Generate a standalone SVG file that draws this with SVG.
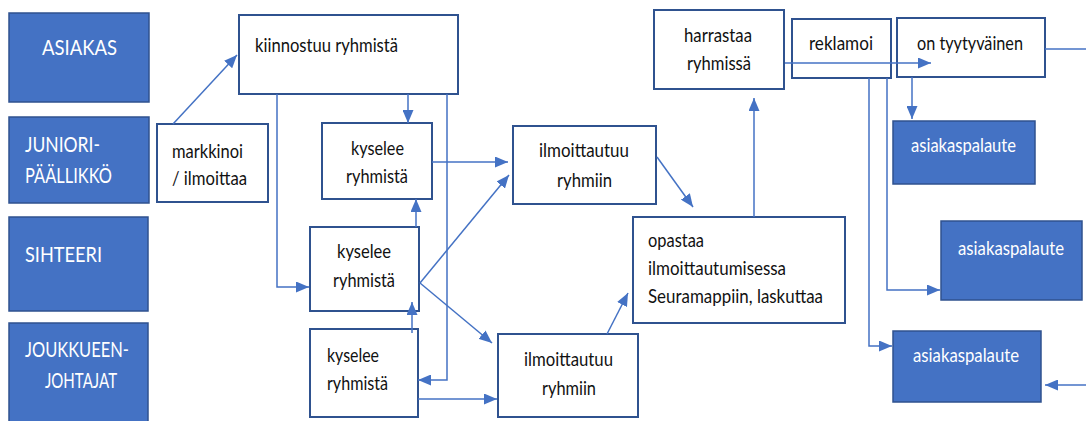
<svg xmlns="http://www.w3.org/2000/svg" width="1086" height="421" viewBox="0 0 1086 421">
  <style>
    .role { fill: #4472C4; stroke: #2F528F; stroke-width: 1.5; }
    .step { fill: #FFFFFF; stroke: #2F528F; stroke-width: 2; }
    .fb { fill: #4472C4; stroke: #2F528F; stroke-width: 1.5; }
    .rt { font-family: Lato, "Open Sans", sans-serif; font-size: 22px; fill: #FFFFFF; }
    .t { font-family: Lato, "Open Sans", sans-serif; font-size: 19px; fill: #111111; }
    .wt { font-family: Lato, "Open Sans", sans-serif; font-size: 19px; fill: #FFFFFF; }
    .conn { fill: none; stroke: #4472C4; stroke-width: 1.5; marker-end: url(#arrow); }
    .plain { fill: none; stroke: #4472C4; stroke-width: 1.5; }
  </style>
  <defs>
    <marker id="arrow" markerUnits="userSpaceOnUse" markerWidth="13" markerHeight="11" refX="13" refY="5.5" orient="auto">
      <path d="M0,0 L13,5.5 L0,11 z" fill="#4472C4"/>
    </marker>
  </defs>

  <rect width="1086" height="421" fill="#FFFFFF"/>

  <!-- role lanes -->
  <g id="role-asiakas">
    <rect class="role" x="9" y="13" width="140" height="89"/>
    <text class="rt" x="42" y="55" textLength="75" lengthAdjust="spacingAndGlyphs">ASIAKAS</text>
  </g>
  <g id="role-junioripaallikko">
    <rect class="role" x="9" y="117" width="140" height="86"/>
    <text class="rt" x="25" y="152" textLength="75" lengthAdjust="spacingAndGlyphs">JUNIORI-</text>
    <text class="rt" x="25" y="183" textLength="87" lengthAdjust="spacingAndGlyphs">PÄÄLLIKKÖ</text>
  </g>
  <g id="role-sihteeri">
    <rect class="role" x="9" y="217" width="139" height="94"/>
    <text class="rt" x="25" y="262" textLength="77" lengthAdjust="spacingAndGlyphs">SIHTEERI</text>
  </g>
  <g id="role-joukkueenjohtajat">
    <rect class="role" x="9" y="323" width="139" height="110"/>
    <text class="rt" x="25" y="357" textLength="104" lengthAdjust="spacingAndGlyphs">JOUKKUEEN-</text>
    <text class="rt" x="45" y="388" textLength="72" lengthAdjust="spacingAndGlyphs">JOHTAJAT</text>
  </g>

  <!-- process steps -->
  <g id="markkinoi">
    <rect class="step" x="157" y="124" width="111" height="78"/>
    <text class="t" x="172" y="158" textLength="71" lengthAdjust="spacingAndGlyphs">markkinoi</text>
    <text class="t" x="172" y="185" textLength="75" lengthAdjust="spacingAndGlyphs">/ ilmoittaa</text>
  </g>
  <g id="kiinnostuu">
    <rect class="step" x="239" y="15" width="219" height="79"/>
    <text class="t" x="255" y="52" textLength="143" lengthAdjust="spacingAndGlyphs">kiinnostuu ryhmistä</text>
  </g>
  <g id="kyselee-junioripaallikko">
    <rect class="step" x="322" y="123" width="110" height="76"/>
    <text class="t" x="351" y="155" textLength="53" lengthAdjust="spacingAndGlyphs">kyselee</text>
    <text class="t" x="346" y="183" textLength="62" lengthAdjust="spacingAndGlyphs">ryhmistä</text>
  </g>
  <g id="kyselee-sihteeri">
    <rect class="step" x="310" y="227" width="109" height="84"/>
    <text class="t" x="337" y="258" textLength="54" lengthAdjust="spacingAndGlyphs">kyselee</text>
    <text class="t" x="333" y="287" textLength="62" lengthAdjust="spacingAndGlyphs">ryhmistä</text>
  </g>
  <g id="kyselee-joukkueenjohtajat">
    <rect class="step" x="310" y="329" width="108" height="88"/>
    <text class="t" x="327" y="362" textLength="52" lengthAdjust="spacingAndGlyphs">kyselee</text>
    <text class="t" x="327" y="390" textLength="61" lengthAdjust="spacingAndGlyphs">ryhmistä</text>
  </g>
  <g id="ilmoittautuu-junioripaallikko">
    <rect class="step" x="513" y="126" width="143" height="78"/>
    <text class="t" x="539" y="157" textLength="90" lengthAdjust="spacingAndGlyphs">ilmoittautuu</text>
    <text class="t" x="557" y="187" textLength="55" lengthAdjust="spacingAndGlyphs">ryhmiin</text>
  </g>
  <g id="ilmoittautuu-joukkueenjohtajat">
    <rect class="step" x="498" y="334" width="140" height="83"/>
    <text class="t" x="524" y="366" textLength="89" lengthAdjust="spacingAndGlyphs">ilmoittautuu</text>
    <text class="t" x="542" y="395" textLength="54" lengthAdjust="spacingAndGlyphs">ryhmiin</text>
  </g>
  <g id="opastaa">
    <rect class="step" x="633" y="217" width="212" height="106"/>
    <text class="t" x="648" y="247" textLength="56" lengthAdjust="spacingAndGlyphs">opastaa</text>
    <text class="t" x="648" y="275" textLength="138" lengthAdjust="spacingAndGlyphs">ilmoittautumisessa</text>
    <text class="t" x="648" y="303" textLength="175" lengthAdjust="spacingAndGlyphs">Seuramappiin, laskuttaa</text>
  </g>
  <g id="harrastaa">
    <rect class="step" x="654" y="10" width="130" height="79"/>
    <text class="t" x="684" y="42" textLength="68" lengthAdjust="spacingAndGlyphs">harrastaa</text>
    <text class="t" x="687" y="70" textLength="64" lengthAdjust="spacingAndGlyphs">ryhmissä</text>
  </g>
  <g id="reklamoi">
    <rect class="step" x="792" y="19" width="99" height="59"/>
    <text class="t" x="809" y="50" textLength="64" lengthAdjust="spacingAndGlyphs">reklamoi</text>
  </g>
  <g id="tyytyvainen">
    <rect class="step" x="897" y="18" width="148" height="59"/>
    <text class="t" x="917" y="50" textLength="106" lengthAdjust="spacingAndGlyphs">on tyytyväinen</text>
  </g>

  <!-- feedback boxes -->
  <g id="asiakaspalaute-1">
    <rect class="fb" x="893" y="121" width="142" height="63"/>
    <text class="wt" x="911" y="152" textLength="105" lengthAdjust="spacingAndGlyphs">asiakaspalaute</text>
  </g>
  <g id="asiakaspalaute-2">
    <rect class="fb" x="941" y="221" width="141" height="79"/>
    <text class="wt" x="958" y="255" textLength="106" lengthAdjust="spacingAndGlyphs">asiakaspalaute</text>
  </g>
  <g id="asiakaspalaute-3">
    <rect class="fb" x="893" y="331" width="148" height="71"/>
    <text class="wt" x="913" y="362" textLength="106" lengthAdjust="spacingAndGlyphs">asiakaspalaute</text>
  </g>

  <!-- connectors -->
  <g id="connectors">
    <path class="conn" d="M173,124 L237,55"/>
    <path class="conn" d="M408,94 V123"/>
    <path class="conn" d="M277,94 V287 H309"/>
    <path class="conn" d="M447,94 V380 H418"/>
    <path class="conn" d="M416,227 V199"/>
    <path class="conn" d="M412,333 V302"/>
    <path class="conn" d="M432,162 H508"/>
    <path class="conn" d="M420,283 L509,175"/>
    <path class="conn" d="M420,283 L492,343"/>
    <path class="conn" d="M418,399 H497"/>
    <path class="conn" d="M607,334 L628,293"/>
    <path class="conn" d="M657,157 L693,207"/>
    <path class="conn" d="M754,217 V98"/>
    <path class="conn" d="M785,63 H931"/>
    <path class="conn" d="M912,77 V119"/>
    <path class="conn" d="M869,78 V346 H892"/>
    <path class="conn" d="M887,78 V290 H940"/>
    <path class="plain" d="M1045,49 H1086"/>
    <path class="conn" d="M1086,385 H1045"/>
  </g>
</svg>
